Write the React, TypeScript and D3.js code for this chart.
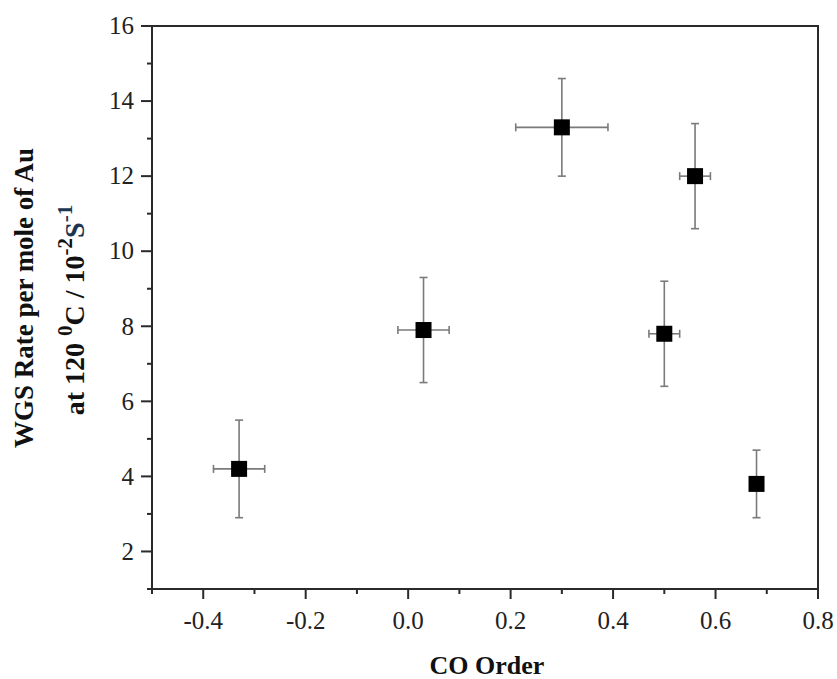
import React, { useEffect, useRef } from "react";
import * as d3 from "d3";

// CO order (x) vs WGS rate (y), with error bars
const coOrder = [-0.33, 0.03, 0.3, 0.56, 0.5, 0.68];
const rate = [4.2, 7.9, 13.3, 12.0, 7.8, 3.8];
const xErr = [0.05, 0.05, 0.09, 0.03, 0.03, 0];
const yErr = [1.3, 1.4, 1.3, 1.4, 1.4, 0.9];

const xMajor = [-0.4, -0.2, 0.0, 0.2, 0.4, 0.6, 0.8];
const xMinor = [-0.5, -0.3, -0.1, 0.1, 0.3, 0.5, 0.7];
const yMajor = [2, 4, 6, 8, 10, 12, 14, 16];
const yMinor = [1, 3, 5, 7, 9, 11, 13, 15];

const W = 837;
const H = 679;

const App = () => {
  const svgRef = useRef<SVGSVGElement | null>(null);

  useEffect(() => {
    if (!svgRef.current) return;
    const svg = d3.select(svgRef.current);
    svg.selectAll("*").remove();

    const margin = { top: 26, right: 19, bottom: 90, left: 152 };
    const x = d3.scaleLinear().domain([-0.5, 0.8]).range([margin.left, W - margin.right]);
    const y = d3.scaleLinear().domain([1, 16]).range([H - margin.bottom, margin.top]);
    const font = "Liberation Serif, Times New Roman, serif";
    const axisColor = "#2a2a2a";
    const fmt = (v: number) => d3.format(".1f")(v).replace("\u2212", "-");

    svg.append("rect").attr("width", W).attr("height", H).attr("fill", "#fff");

    // Frame
    svg.append("rect")
      .attr("x", x(-0.5)).attr("y", y(16))
      .attr("width", x(0.8) - x(-0.5)).attr("height", y(1) - y(16))
      .attr("fill", "none").attr("stroke", axisColor).attr("stroke-width", 2);

    // X ticks
    const x0 = y(1);
    xMajor.forEach(v => {
      svg.append("line").attr("x1", x(v)).attr("x2", x(v)).attr("y1", x0).attr("y2", x0 + 10)
        .attr("stroke", axisColor).attr("stroke-width", 2);
      svg.append("text").attr("x", x(v)).attr("y", x0 + 40)
        .attr("text-anchor", "middle").attr("font-family", font).attr("font-size", 25)
        .attr("fill", "#222").text(fmt(v));
    });
    xMinor.forEach(v => {
      svg.append("line").attr("x1", x(v)).attr("x2", x(v)).attr("y1", x0).attr("y2", x0 + 5)
        .attr("stroke", axisColor).attr("stroke-width", 2);
    });

    // Y ticks
    const y0 = x(-0.5);
    yMajor.forEach(v => {
      svg.append("line").attr("x1", y0 - 11).attr("x2", y0).attr("y1", y(v)).attr("y2", y(v))
        .attr("stroke", axisColor).attr("stroke-width", 2);
      svg.append("text").attr("x", y0 - 18).attr("y", y(v)).attr("dy", "0.33em")
        .attr("text-anchor", "end").attr("font-family", font).attr("font-size", 25)
        .attr("fill", "#222").text(v);
    });
    yMinor.forEach(v => {
      svg.append("line").attr("x1", y0 - 5).attr("x2", y0).attr("y1", y(v)).attr("y2", y(v))
        .attr("stroke", axisColor).attr("stroke-width", 2);
    });

    // Axis titles
    svg.append("text").attr("x", 487).attr("y", 674)
      .attr("text-anchor", "middle").attr("font-family", font).attr("font-size", 26)
      .attr("font-weight", "bold").attr("fill", "#111").text("CO Order");

    const yt = svg.append("g").attr("transform", "translate(0,298) rotate(-90)")
      .attr("font-family", font).attr("font-size", 27).attr("font-weight", "bold").attr("fill", "#111");
    yt.append("text").attr("x", 0).attr("y", 33).attr("text-anchor", "middle")
      .text("WGS Rate per mole of Au");
    const l2 = yt.append("text").attr("x", -12).attr("y", 84).attr("text-anchor", "middle")
      .attr("font-size", 28);
    l2.append("tspan").text("at 120 ");
    l2.append("tspan").attr("dy", -12).attr("font-size", 21).text("0");
    l2.append("tspan").attr("dy", 12).text("C / 10");
    l2.append("tspan").attr("dy", -12).attr("font-size", 21).text("-2");
    l2.append("tspan").attr("dy", 12).attr("fill", "#1c3550").text("S");
    l2.append("tspan").attr("dy", -12).attr("font-size", 21).attr("fill", "#1c3550").text("-1");

    // Error bars
    const errColor = "#7a7a7a";
    const cap = 4;
    coOrder.forEach((cx, i) => {
      const px = x(cx);
      const py = y(rate[i]);
      const g = svg.append("g").attr("stroke", errColor).attr("stroke-width", 1.6);
      const yt1 = y(rate[i] + yErr[i]);
      const yb1 = y(rate[i] - yErr[i]);
      g.append("line").attr("x1", px).attr("x2", px).attr("y1", yt1).attr("y2", yb1);
      g.append("line").attr("x1", px - cap).attr("x2", px + cap).attr("y1", yt1).attr("y2", yt1);
      g.append("line").attr("x1", px - cap).attr("x2", px + cap).attr("y1", yb1).attr("y2", yb1);
      if (xErr[i] > 0) {
        const xl = x(cx - xErr[i]);
        const xr = x(cx + xErr[i]);
        g.append("line").attr("x1", xl).attr("x2", xr).attr("y1", py).attr("y2", py);
        g.append("line").attr("x1", xl).attr("x2", xl).attr("y1", py - cap).attr("y2", py + cap);
        g.append("line").attr("x1", xr).attr("x2", xr).attr("y1", py - cap).attr("y2", py + cap);
      }
    });

    // Square markers
    const s = 16;
    svg.append("g").selectAll("rect").data(coOrder).join("rect")
      .attr("x", (d) => x(d) - s / 2)
      .attr("y", (_, i) => y(rate[i]) - s / 2)
      .attr("width", s).attr("height", s)
      .attr("fill", "#000");
  }, []);

  return (
    <svg ref={svgRef} width={W} height={H}
      style={{ position: "absolute", left: 0, top: 0, display: "block" }}></svg>
  );
};

export default App;
